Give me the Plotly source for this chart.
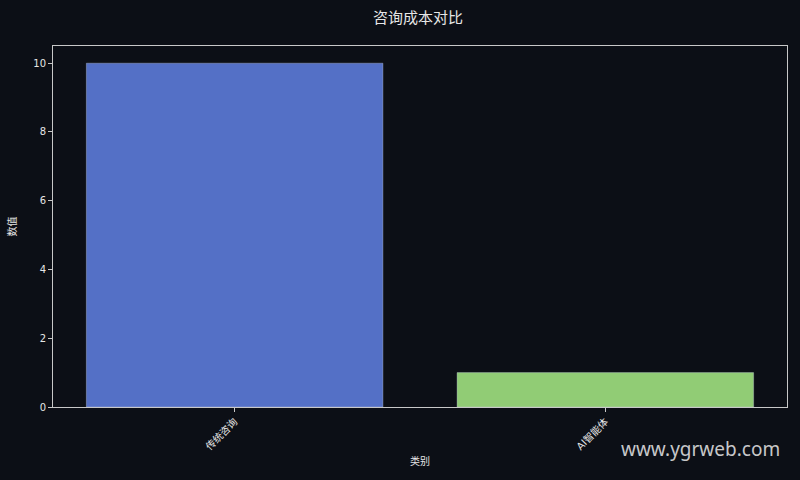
import plotly.graph_objects as go

# 数据
categories = ["传统咨询", "AI智能体"]
values = [10, 1]
bar_colors = ["#5470c6", "#91cc75"]

BG = "#0c0f16"
AXIS = "#c8c8c8"
TEXT = "#e6e6e6"
CJK = "Noto Sans CJK SC, Noto Sans, sans-serif"
NUM = "DejaVu Sans, Noto Sans CJK SC, sans-serif"

fig = go.Figure(go.Bar(
    x=categories,
    y=values,
    width=0.8,
    marker=dict(color=bar_colors, line=dict(color="rgba(200,210,230,0.35)", width=1)),
))

fig.update_layout(
    width=800,
    height=480,
    paper_bgcolor=BG,
    plot_bgcolor=BG,
    margin=dict(l=47, r=12, t=46, b=73),
    font=dict(family=CJK, color=TEXT, size=10),
    title=dict(text="咨询成本对比", x=0.5225, xanchor="center", y=0.962, yanchor="middle",
               font=dict(size=15, color=TEXT, family=CJK)),
    showlegend=False,
    bargap=0.2,
)

fig.update_xaxes(
    range=[-0.49, 1.49],
    showline=True, linecolor=AXIS, linewidth=1, mirror=True,
    showgrid=False, zeroline=False,
    ticks="outside", ticklen=4, tickcolor=AXIS,
    tickangle=-45, tickfont=dict(size=10, color=TEXT, family=NUM),
    title=dict(text="类别", font=dict(size=10, color=TEXT), standoff=6),
)
fig.update_yaxes(
    range=[0, 10.5],
    dtick=2,
    showline=True, linecolor=AXIS, linewidth=1, mirror=True,
    showgrid=False, zeroline=False,
    ticks="outside", ticklen=4, tickcolor=AXIS,
    tickfont=dict(size=10, color=TEXT, family=NUM),
    title=dict(text="数值", font=dict(size=10, color=TEXT), standoff=14),
)

# 水印
fig.add_annotation(
    text="www.ygrweb.com", xref="paper", yref="paper",
    x=1.0, y=-0.115, xanchor="right", yanchor="middle", showarrow=False, xshift=-5,
    font=dict(family="Noto Sans, sans-serif", size=19, color="rgba(235,235,235,0.85)"),
)

# 去掉页面默认边距
fig.write_html(
    "out.html",
    config={"displayModeBar": False},
    post_script="document.body.style.margin='0';document.body.style.background='#0c0f16';",
)
